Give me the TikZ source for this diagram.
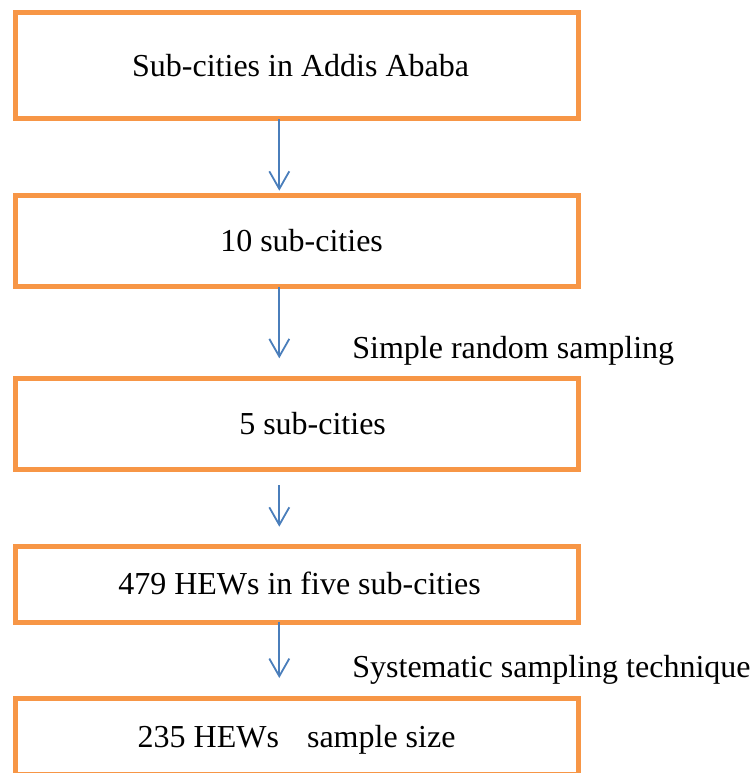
\documentclass[tikz,border=0pt]{standalone}
\usepackage{fontspec}
\setmainfont{Liberation Serif}
\usetikzlibrary{arrows.meta}
\definecolor{boxorange}{HTML}{F79646}
\definecolor{arrowblue}{HTML}{4A7EBB}
\tikzset{
  stage/.style={draw=boxorange,line width=2.5pt,minimum width=281.4pt,inner sep=0pt,outer sep=0pt,
    text height=10.6pt,text depth=0pt,font=\fontsize{16}{19}\selectfont},
  flow/.style={draw=arrowblue,line width=0.9pt,-{Straight Barb[length=8.8pt,width=10pt]}},
  note/.style={anchor=base west,inner sep=0pt,font=\fontsize{16}{19}\selectfont}
}
\begin{document}
\begin{tikzpicture}[x=0.5pt,y=-0.5pt]
\useasboundingbox (0,0) rectangle (754,773);
\node[stage,minimum height=53.25pt] (a) at (296.6,65.5) {\hspace*{4pt}Sub-cities in Addis Ababa};
\node[stage,minimum height=45.7pt] (b) at (296.6,241) {\hspace*{5pt}10 sub-cities};
\node[stage,minimum height=45.65pt] (c) at (296.6,423.7) {\hspace*{16pt}5 sub-cities};
\node[stage,minimum height=38pt] (d) at (296.6,584) {\hspace*{3pt}479 HEWs in five sub-cities};
\node[stage,minimum height=37.8pt] (e) at (296.6,736.5) {235 HEWs\hspace{0.875em}sample size};

\node[note] (s) at (352,358) {Simple random sampling};
\node[note] (t) at (352,677) {Systematic sampling technique};

\coordinate (p) at (279.3,190.7);
\coordinate (q) at (279.3,358.3);
\coordinate (r0) at (279.3,485);
\coordinate (r) at (279.3,526.7);
\coordinate (u) at (279.3,678);

\path[flow] (a.south -| p) -- (p);
\path[flow] (b.south -| q) -- (q);
\path[flow] (r0) -- (r);
\path[flow] (d.south -| u) -- (u);
\end{tikzpicture}
\end{document}
